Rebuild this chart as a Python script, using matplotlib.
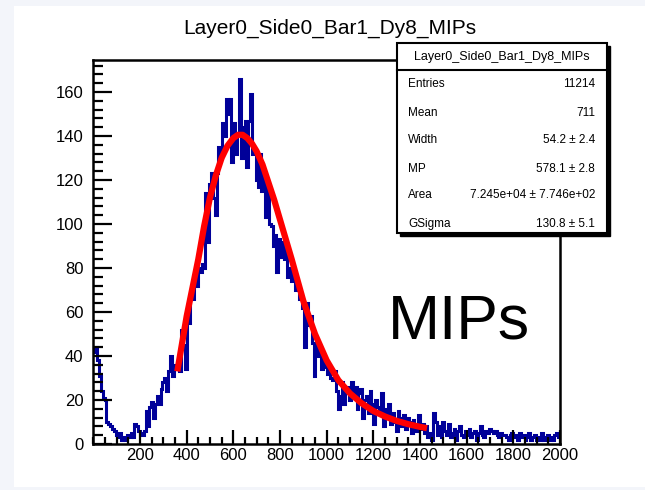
import matplotlib
matplotlib.use("Agg")
import matplotlib.pyplot as plt
import numpy as np
from matplotlib.patches import Rectangle
from matplotlib.ticker import MultipleLocator

plt.rcParams["font.family"] = ["Liberation Sans", "DejaVu Sans"]

# histogram: 250 bins of width 8 from 0 to 2000
bin_width = 8
counts = [
    42, 44, 38, 31, 24, 21, 20, 10, 9, 8,
    7, 6, 4, 3, 5, 2, 3, 2, 4, 3,
    5, 3, 9, 8, 6, 5, 4, 6, 15, 8,
    17, 19, 12, 18, 22, 18, 25, 28, 30, 24,
    33, 40, 31, 36, 34, 36, 33, 52, 45, 34,
    60, 55, 68, 66, 76, 72, 80, 78, 82, 80,
    114, 92, 118, 123, 112, 104, 123, 135, 130, 146,
    140, 157, 150, 157, 128, 146, 132, 141, 166, 130,
    144, 147, 126, 147, 159, 132, 134, 120, 117, 132,
    115, 122, 103, 116, 100, 99, 90, 95, 78, 93,
    85, 92, 84, 88, 76, 80, 74, 78, 70, 72,
    66, 68, 62, 44, 64, 54, 58, 46, 31, 46,
    40, 42, 34, 38, 35, 32, 36, 30, 29, 33,
    24, 16, 22, 28, 18, 25, 26, 20, 28, 22,
    26, 16, 23, 25, 12, 20, 22, 14, 24, 18,
    9, 20, 17, 14, 23, 8, 16, 12, 18, 9,
    14, 10, 6, 15, 12, 8, 13, 7, 12, 10,
    5, 11, 8, 6, 13, 7, 9, 5, 8, 3,
    5, 2, 14, 10, 4, 8, 3, 10, 6, 4,
    9, 3, 5, 7, 2, 6, 8, 4, 3, 6,
    4, 7, 3, 5, 6, 2, 5, 8, 4, 3,
    6, 5, 7, 6, 5, 6, 4, 3, 5, 4,
    4, 3, 2, 4, 5, 3, 4, 2, 5, 3,
    4, 2, 3, 5, 2, 3, 4, 2, 3, 2,
    5, 2, 3, 4, 2, 3, 2, 4, 5, 3,
]
edges = np.arange(len(counts) + 1) * bin_width

# fit curve points
fit_x = [360, 400, 425, 450, 475, 500, 525, 550, 575, 600, 620, 640, 660,
         680, 700, 725, 750, 775, 800, 850, 900, 950, 1000, 1050, 1100,
         1150, 1200, 1250, 1300, 1350, 1400, 1430]
fit_y = [33, 58, 71, 84, 99, 112, 122, 130, 135.5, 139, 140.5, 140.5, 139,
         136.5, 133, 127, 119, 111, 102, 84, 65, 50, 38, 29, 23,
         18.5, 15, 12.5, 10.5, 9, 7.8, 7.2]

title = "Layer0_Side0_Bar1_Dy8_MIPs"
stat_names = ["Entries", "Mean", "Width", "MP", "Area", "GSigma"]
stat_values = ["11214", "711", "54.2 \u00b1 2.4", "578.1 \u00b1 2.8",
               "7.245e+04 \u00b1 7.746e+02", "130.8 \u00b1 5.1"]
stat_rows_y = [84, 113, 140, 169, 195, 224]

W, H = 645, 490
fig = plt.figure(figsize=(W / 100, H / 100), dpi=100, facecolor="#f3f5fa")
fig.patches.append(Rectangle((14 / W, 0.006), 1, 1 - 0.006 - 3 / H - 0.0065,
                             transform=fig.transFigure, facecolor="white",
                             edgecolor="none", zorder=-10))


def fx(px):
    return px / W


def fy(py):
    return 1 - py / H


ax = fig.add_axes([fx(93.3), fy(444), fx(560) - fx(93.3), fy(60) - fy(444)])
ax.set_facecolor("white")
ax.stairs(counts, edges, baseline=None, color="#000099", linewidth=2.2)
ax.plot(fit_x, fit_y, color="#ff0000", linewidth=4.5, solid_capstyle="butt",
        solid_joinstyle="round")
ax.set_xlim(0, 2000)
ax.set_ylim(0, 174.5)
ax.xaxis.set_major_locator(MultipleLocator(200))
ax.xaxis.set_minor_locator(MultipleLocator(50))
ax.yaxis.set_major_locator(MultipleLocator(20))
ax.yaxis.set_minor_locator(MultipleLocator(4))
ax.tick_params(axis="both", which="both", direction="in", top=False, right=False,
               color="black", width=1.6, labelsize=12)
ax.tick_params(axis="x", which="major", length=10, pad=3)
ax.tick_params(axis="x", which="minor", length=5)
ax.tick_params(axis="y", which="major", length=14, pad=7)
ax.tick_params(axis="y", which="minor", length=7)
ax.set_xticks(np.arange(200, 2001, 200))
ax.set_yticks(np.arange(0, 161, 20))
for s in ax.spines.values():
    s.set_linewidth(1.8)
    s.set_color("black")

ax.text(fx(388), fy(338), "MIPs", transform=fig.transFigure, fontsize=45,
        ha="left", va="baseline", color="black")

fig.text(fx(330), fy(28), title, ha="center", va="center", fontsize=15)

# stats box with shadow
bx0, by0, bx1, by1 = 397, 43, 607, 233
fig.patches.append(Rectangle((fx(bx0 + 3), fy(by1 + 3)), fx(bx1) - fx(bx0), fy(by0) - fy(by1),
                             transform=fig.transFigure, facecolor="black",
                             edgecolor="black", zorder=5))
fig.patches.append(Rectangle((fx(bx0), fy(by1)), fx(bx1) - fx(bx0), fy(by0) - fy(by1),
                             transform=fig.transFigure, facecolor="white",
                             edgecolor="black", linewidth=1.5, zorder=6))
fig.lines.append(plt.Line2D([fx(bx0), fx(bx1)], [fy(70), fy(70)],
                            transform=fig.transFigure, color="black", linewidth=1.5,
                            zorder=7))
fig.text(fx((bx0 + bx1) / 2), fy(57), title, ha="center", va="center",
         fontsize=9, zorder=8)
for name, val, ry in zip(stat_names, stat_values, stat_rows_y):
    fig.text(fx(408), fy(ry), name, ha="left", va="center", fontsize=8.5, zorder=8)
    fig.text(fx(595), fy(ry), val, ha="right", va="center", fontsize=8.5, zorder=8)

fig.savefig("out.png", dpi=100, facecolor=fig.get_facecolor())
